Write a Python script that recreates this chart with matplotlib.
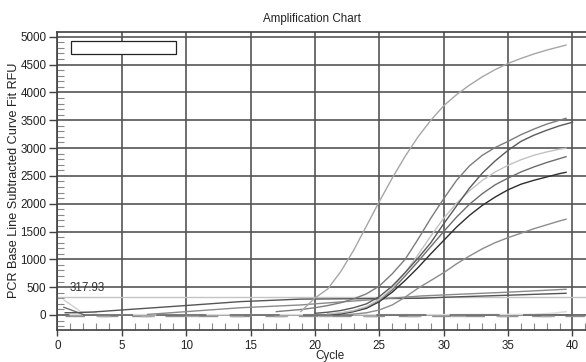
import matplotlib
matplotlib.use("Agg")
import matplotlib.pyplot as plt
from matplotlib.patches import Rectangle
from matplotlib.ticker import MultipleLocator

plt.rcParams['font.family'] = ['Liberation Sans', 'DejaVu Sans']

# ---------------- data ----------------
title = "Amplification Chart"
xlabel = "Cycle"
ylabel = "PCR Base Line Subtracted Curve Fit RFU"
threshold = 317.93

a_x = [18.9, 20, 21, 22, 23, 24, 25, 26, 27, 28, 29, 30, 31, 32, 33, 34, 35, 36, 37, 38, 39, 39.5]
a_y = [60, 305, 470, 780, 1160, 1600, 2040, 2460, 2850, 3200, 3500, 3760, 3960, 4130, 4280, 4410, 4520, 4610, 4690, 4760, 4820, 4850]

b_x = [17, 18, 19, 20, 21, 22, 23, 24, 25, 26, 27, 28, 29, 30, 31, 32, 33, 34, 35, 36, 37, 38, 39, 39.5]
b_y = [60, 80, 100, 130, 170, 220, 290, 380, 520, 740, 1000, 1360, 1740, 2090, 2420, 2680, 2870, 3010, 3120, 3240, 3340, 3430, 3500, 3535]

c_x = [20, 21, 22, 23, 24, 25, 26, 27, 28, 29, 30, 31, 32, 33, 34, 35, 36, 37, 38, 39, 40]
c_y = [30, 50, 80, 130, 200, 330, 520, 760, 1020, 1300, 1640, 1960, 2280, 2550, 2770, 2960, 3120, 3230, 3320, 3400, 3463]

d_x = [21, 22, 23, 24, 25, 26, 27, 28, 29, 30, 31, 32, 33, 34, 35, 36, 37, 38, 39, 39.5]
d_y = [20, 40, 80, 150, 280, 480, 760, 1080, 1420, 1740, 2010, 2230, 2420, 2570, 2690, 2790, 2870, 2930, 2980, 2995]

e_x = [21, 22, 23, 24, 25, 26, 27, 28, 29, 30, 31, 32, 33, 34, 35, 36, 37, 38, 39, 39.5]
e_y = [15, 30, 70, 140, 260, 450, 700, 960, 1230, 1500, 1760, 1990, 2180, 2340, 2460, 2570, 2660, 2740, 2810, 2845]

f_x = [21, 22, 23, 24, 25, 26, 27, 28, 29, 30, 31, 32, 33, 34, 35, 36, 37, 38, 39, 39.5]
f_y = [10, 20, 60, 120, 240, 410, 620, 850, 1100, 1340, 1580, 1790, 1970, 2120, 2250, 2350, 2420, 2480, 2540, 2564]

g_x = [22, 23, 24, 25, 26, 27, 28, 29, 30, 31, 32, 33, 34, 35, 36, 37, 38, 39, 39.5]
g_y = [0, 15, 40, 90, 180, 320, 480, 620, 760, 920, 1060, 1190, 1300, 1390, 1470, 1550, 1620, 1690, 1720]

l1_x = [0.6, 1.5, 2.8, 5, 10, 14.2, 18.9, 25, 28.2, 30, 35, 39.5]
l1_y = [40, 41, 54, 90, 170, 240, 285, 295, 300, 318, 355, 390]

l2_x = [7, 10, 14.2, 18.9, 20, 25, 28.2, 30, 35, 39.5]
l2_y = [10, 60, 130, 180, 200, 285, 341, 360, 410, 462]

s1_x = [0.5, 1.8, 3.0]
s1_y = [270, 60, 40]
s2_x = [0.5, 2.1]
s2_y = [138, 0]

n1_x = [1.0, 10, 20, 30, 37, 38.5, 39.5]
n1_y = [5, 5, 5, 5, 10, 30, 60]
n2_x = [0.6, 10, 20, 30, 41]
n2_y = [-10, -10, -10, -10, -10]
n3_x = [2.0, 10, 20, 30, 41]
n3_y = [0, 0, 0, 0, 0]
n4_x = [3.0, 10, 20, 30, 41]
n4_y = [-20, -20, -20, -20, -20]

legend_box = (1.03, 4685, 8.19, 245)

# ---------------- figure ----------------
fig = plt.figure(figsize=(5.86, 3.62), dpi=100)
ax = fig.add_axes([0.0981, 0.0884, 0.9019, 0.8232])
ax.set_xlim(0, 41.05)
ax.set_ylim(-270, 5085)

ax.xaxis.set_major_locator(MultipleLocator(5))
ax.xaxis.set_minor_locator(MultipleLocator(1))
ax.yaxis.set_major_locator(MultipleLocator(500))
ax.yaxis.set_minor_locator(MultipleLocator(100))
ax.grid(True, which='major', color='#555555', lw=1.2, zorder=0)
ax.tick_params(which='major', direction='out', length=4, width=1, color='#404040',
               labelsize=8.4, labelcolor='#222222')
ax.tick_params(axis='x', which='major', pad=3)
ax.tick_params(axis='y', which='major', length=6, pad=2)
ax.tick_params(which='minor', direction='in', length=5, width=0.8, color='#888888')
ax.spines['right'].set_visible(False)
for s in ['top', 'bottom', 'left']:
    ax.spines[s].set_color('#404040')
    ax.spines[s].set_linewidth(1.2)

# threshold
ax.axhline(threshold, color='#c4c4c4', lw=1.0, zorder=2)
ax.text(0.95, 380, f"{threshold:.2f}", fontsize=8.4, color='#333333', va='bottom', ha='left')

# baseline-ish lines
ax.plot(n1_x, n1_y, color='#dcdcdc', lw=1.2, zorder=2)
ax.plot(n2_x, n2_y, color='#909090', lw=1.0, dashes=(14, 10), zorder=2)
ax.plot(n3_x, n3_y, color='#6a6a6a', lw=1.2, dashes=(30, 14), zorder=2)
ax.plot(n4_x, n4_y, color='#a8a8a8', lw=1.0, dashes=(10, 22), zorder=2)
ax.plot(s1_x, s1_y, color='#d0d0d0', lw=1.0, zorder=3)
ax.plot(s2_x, s2_y, color='#707070', lw=1.0, zorder=3)
ax.plot(l1_x, l1_y, color='#555555', lw=1.0, zorder=3)
ax.plot(l2_x, l2_y, color='#8a8a8a', lw=1.0, zorder=3)

# amplification curves
ax.plot(g_x, g_y, color='#8c8c8c', lw=1.0, zorder=3)
ax.plot(f_x, f_y, color='#2e2e2e', lw=1.0, zorder=3)
ax.plot(e_x, e_y, color='#6e6e6e', lw=1.0, zorder=3)
ax.plot(d_x, d_y, color='#c2c2c2', lw=1.0, zorder=3)
ax.plot(c_x, c_y, color='#5a5a5a', lw=1.0, zorder=3)
ax.plot(b_x, b_y, color='#7c7c7c', lw=1.0, zorder=3)
ax.plot(a_x, a_y, color='#a6a6a6', lw=1.0, zorder=3)

ax.add_patch(Rectangle(legend_box[:2], legend_box[2], legend_box[3], fill=True,
                       facecolor='white', edgecolor='#222222', lw=0.9, zorder=4))

fig.text(311.5 / 586, 1 - 19 / 362, title, fontsize=8.4, ha='center', va='center', color='#222222')
fig.text(330 / 586, 1 - 356 / 362, xlabel, fontsize=8.4, ha='center', va='center', color='#222222')
fig.text(14 / 586, 1 - 180 / 362, ylabel, fontsize=9.1, ha='center', va='center',
         rotation=90, color='#222222')

fig.savefig("out.png", dpi=100)
